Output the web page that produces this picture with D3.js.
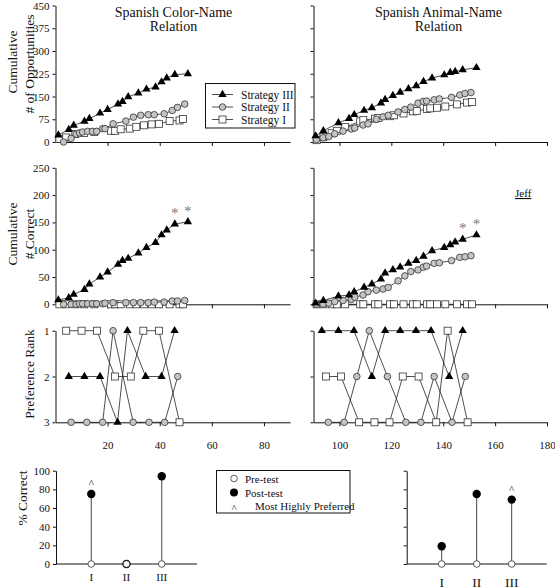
<!DOCTYPE html>
<html><head><meta charset="utf-8">
<script src="https://cdn.jsdelivr.net/npm/d3@7"></script>
<style>body{margin:0;background:#fff}svg{display:block}
svg, svg text{font-family:"Liberation Serif","Times New Roman",Times,"DejaVu Serif",serif !important}</style>
</head><body>
<script>
// ---------- DATA ----------
const colorIIIx = [1.1, 5.1, 7, 11.1, 13, 17.1, 20, 24, 25.7, 27.9, 31.8, 34.9, 38.4, 40.7, 42.7, 45.8, 50.8];
const colorIIIopp = [23, 41, 55, 68, 77, 95, 107, 125, 133, 149, 161, 174, 181, 198, 211, 222, 225];
const colorIIIcor = [8, 12, 18, 27, 37, 50, 59, 73, 80, 84, 94, 104, 113, 127, 136, 147, 151];
const colorIIx = [3.1, 6, 7.9, 9.2, 10.4, 12.3, 14.2, 15.8, 18.1, 19, 22.1, 27, 29.9, 32.7, 35.6, 37.9, 41.7, 44.8, 46.8, 49.6];
const colorIIopp = [0, 12, 26, 30, 33, 35, 35, 35, 44, 44, 60, 69, 82, 88, 90, 90, 93, 104, 114, 125];
const colorIIcor = [0, 0, 0, 1, 1, 1, 1, 1, 1, 2, 3, 3, 3, 3, 3, 4, 4, 6, 6, 7];
const colorIx = [1.5, 4.1, 7.6, 11, 14.9, 21.3, 22.9, 25, 28.5, 31, 34, 36.9, 39.7, 43.8, 47.6, 48.9];
const colorIopp = [10, 15, 26, 30, 33, 37, 37, 42, 44, 50, 55, 58, 60, 69, 71, 76];
const colorIcor = [0, 0, 0, 0, 0, 0, 0, 0, 0, 0, 0, 0, 0, 0, 0, 0];

const animalIIIx = [90.8, 93.8, 99.6, 103.7, 105.7, 109.5, 112.5, 116, 117.6, 120.6, 123.4, 126.6, 129.6, 132.4, 135.7, 140.4, 142.7, 144.6, 147.5, 152.8];
const animalIIIopp = [20, 37, 63, 77, 90, 104, 113, 128, 140, 153, 164, 175, 185, 199, 211, 221, 229, 232, 238, 245];
const animalIIIcor = [2, 7, 15, 17, 23, 31, 37, 46, 57, 63, 68, 75, 80, 88, 98, 104, 109, 114, 119, 127];
const animalIIx = [91.1, 93.7, 95.9, 98.2, 101.4, 104.6, 105.9, 109.1, 111, 114.2, 116.8, 118.8, 122.6, 125.2, 127.5, 130.3, 132.3, 133.6, 136.5, 138.5, 143.2, 146.4, 148.4, 150.7];
const animalIIopp = [8, 14, 18, 27, 36, 43, 46, 56, 60, 75, 83, 88, 99, 107, 115, 128, 134, 135, 139, 142, 147, 155, 160, 163];
const animalIIcor = [0, 0.5, 2, 5, 7, 9, 13, 17, 23, 26, 28, 31, 43, 52, 60, 63, 68, 70, 75, 76, 80, 86, 87, 89];
const animalIx = [91.2, 93.8, 97, 99, 102.2, 108, 109.2, 113.7, 115, 119.5, 121, 124.7, 128.3, 129.8, 133.7, 135, 137.6, 140.8, 145.3, 149.2, 151.1];
const animalIopp = [6, 16, 29, 37, 49, 68, 72, 77, 79, 85, 88, 94, 101, 102, 109, 111, 113, 117, 124, 130, 132];
const animalIcor = [0, 0, 0, 0, 0, 0, 0, 0, 0, 0, 0, 0, 0, 0, 0, 0, 0, 0, 0, 0, 0];

// preference ranks
const colorRankIIIx = [5.1, 11.1, 17.1, 23.8, 27.6, 34.6, 40.7, 45.7];
const colorRankIII = [2, 2, 2, 3, 1, 2, 2, 1];
const colorRankIIx = [6, 12, 18.1, 22.1, 29.8, 35.9, 41.9, 46.9];
const colorRankII = [3, 3, 3, 1, 3, 3, 3, 2];
const colorRankIx = [4.1, 10, 15.9, 22.8, 28.9, 33.7, 39.7, 47.6];
const colorRankI = [1, 1, 1, 2, 2, 1, 1, 3];
const animalRankIIIx = [93.2, 99.6, 105.6, 112.5, 117.6, 123.4, 129.5, 135.3, 142.3, 147.5];
const animalRankIII = [1, 1, 1, 2, 1, 1, 1, 1, 2, 1];
const animalRankIIx = [95.7, 101.8, 106.7, 111.5, 118.5, 125.6, 131.4, 136.5, 143.4, 148.5];
const animalRankII = [3, 3, 2, 1, 2, 3, 3, 2, 3, 2];
const animalRankIx = [94.8, 100.6, 107.6, 113.5, 119.3, 124.4, 130.5, 137.3, 141.7, 149.4];
const animalRankI = [2, 2, 3, 3, 3, 2, 2, 3, 1, 3];

// pre/post tests
const strategies = ["I", "II", "III"];
const colorPre = [0, 0, 0];
const colorPost = [75, 0, 94];
const animalPre = [0, 0, 0];
const animalPost = [19, 75, 69];
const colorPreferred = "I";
const animalPreferred = "III";

const oppTicks = [0, 75, 150, 225, 300, 375, 450];
const corTicks = [0, 50, 100, 150, 200, 250];
const rankTicks = [1, 2, 3];
const pctTicks = [0, 20, 40, 60, 80, 100];
const leftXTicks = [20, 40, 60, 80];
const rightXTicks = [100, 120, 140, 160, 180];

// ---------- DRAW ----------
const svg = d3.select("body").append("svg").attr("width", 555).attr("height", 588);

const xL = d3.scaleLinear([0, 90], [55.5, 290]);
const xR = d3.scaleLinear([90, 180], [313.5, 547]);
const yOpp = d3.scaleLinear([0, 450], [142, 5.5]);
const yCor = d3.scaleLinear([0, 250], [304.3, 167.8]);
const yRank = d3.scaleLinear([1, 3], [330.7, 422.3]);
const yPct = d3.scaleLinear([0, 100], [564, 470.7]);
const xCatL = d3.scalePoint(strategies, [56, 197]).padding(1);
const xCatR = d3.scalePoint(strategies, [406.7, 546.7]).padding(1);

function styleAxis(g) {
  g.attr("font-family", null).attr("font-size", 11);
  g.selectAll("path,line").attr("stroke", "#111").attr("stroke-width", 1);
  g.selectAll("text").attr("fill", "#111");
}

function yAxis(x, y, ticks, labels) {
  const ax = d3.axisLeft(y).tickValues(ticks).tickSize(3).tickSizeOuter(0).tickFormat(d3.format("d"));
  if (!labels) ax.tickFormat("");
  svg.append("g").attr("transform", `translate(${x.range()[0]},0)`).call(ax).call(styleAxis);
}
function xAxis(x, yPos, ticks, labels) {
  const ax = d3.axisBottom(x).tickValues(ticks).tickSize(4).tickSizeOuter(0).tickPadding(15).tickFormat(d3.format("d"));
  if (!labels) ax.tickFormat("");
  svg.append("g").attr("transform", `translate(0,${yPos})`).call(ax).call(styleAxis);
}

const triSym = d3.symbol(d3.symbolTriangle, 30);
function series(x, y, xs, ys, type) {
  const pts = xs.map((v, i) => [x(v), y(ys[i])]);
  svg.append("path").attr("d", d3.line()(pts)).attr("fill", "none")
    .attr("stroke", "#222").attr("stroke-width", 0.8);
  const g = svg.append("g");
  pts.forEach(p => {
    if (type === "tri") {
      g.append("path").attr("d", triSym()).attr("transform", `translate(${p[0]},${p[1]})`)
        .attr("fill", "#000");
    } else if (type === "circ") {
      g.append("circle").attr("cx", p[0]).attr("cy", p[1]).attr("r", 3.3)
        .attr("fill", "#c4c4c4").attr("stroke", "#333").attr("stroke-width", 0.8);
    } else {
      g.append("rect").attr("x", p[0] - 3.5).attr("y", p[1] - 3.5).attr("width", 7).attr("height", 7)
        .attr("fill", "#fff").attr("stroke", "#333").attr("stroke-width", 0.8);
    }
  });
}

// Top panels: opportunities
yAxis(xL, yOpp, oppTicks, true);
xAxis(xL, yOpp(0), leftXTicks, false);
yAxis(xR, yOpp, oppTicks, false);
xAxis(xR, yOpp(0), rightXTicks, false);
series(xL, yOpp, colorIx, colorIopp, "sq");
series(xL, yOpp, colorIIx, colorIIopp, "circ");
series(xL, yOpp, colorIIIx, colorIIIopp, "tri");
series(xR, yOpp, animalIx, animalIopp, "sq");
series(xR, yOpp, animalIIx, animalIIopp, "circ");
series(xR, yOpp, animalIIIx, animalIIIopp, "tri");

// Middle panels: correct
yAxis(xL, yCor, corTicks, true);
xAxis(xL, yCor(0), leftXTicks, false);
yAxis(xR, yCor, corTicks, false);
xAxis(xR, yCor(0), rightXTicks, false);
series(xL, yCor, colorIx, colorIcor, "sq");
series(xL, yCor, colorIIx, colorIIcor, "circ");
series(xL, yCor, colorIIIx, colorIIIcor, "tri");
series(xR, yCor, animalIx, animalIcor, "sq");
series(xR, yCor, animalIIx, animalIIcor, "circ");
series(xR, yCor, animalIIIx, animalIIIcor, "tri");

// asterisks above the last two Strategy III sessions
function stars(x, y, xs, ys) {
  xs.slice(-2).forEach((v, i) => {
    const val = ys[ys.length - 2 + i];
    svg.append("text").attr("x", x(v)).attr("y", y(val) - 6).attr("text-anchor", "middle")
      .attr("font-size", 15).attr("fill", "#777").text("*");
  });
}
stars(xL, yCor, colorIIIx, colorIIIcor);
stars(xR, yCor, animalIIIx, animalIIIcor);

// Rank panels
yAxis(xL, yRank, rankTicks, true);
xAxis(xL, yRank(3), leftXTicks, true);
yAxis(xR, yRank, rankTicks, false);
xAxis(xR, yRank(3), rightXTicks, true);
series(xL, yRank, colorRankIx, colorRankI, "sq");
series(xL, yRank, colorRankIIx, colorRankII, "circ");
series(xL, yRank, colorRankIIIx, colorRankIII, "tri");
series(xR, yRank, animalRankIx, animalRankI, "sq");
series(xR, yRank, animalRankIIx, animalRankII, "circ");
series(xR, yRank, animalRankIIIx, animalRankIII, "tri");

// Titles
function title(x, lines) {
  lines.forEach((t, i) => svg.append("text").attr("x", x).attr("y", 17 + i * 14)
    .attr("text-anchor", "middle").attr("font-size", 14).attr("fill", "#111").text(t));
}
title(173.5, ["Spanish Color-Name", "Relation"]);
title(438.5, ["Spanish Animal-Name", "Relation"]);

// Y labels
function vlabel(x, cy, t, fs) {
  svg.append("text").attr("transform", `translate(${x},${cy}) rotate(-90)`)
    .attr("text-anchor", "middle").attr("font-size", fs || 13.5).attr("fill", "#111").text(t);
}
vlabel(17, 62, "Cumulative");
vlabel(34, 64, "# of Opportunities");
vlabel(17, 234, "Cumulative");
vlabel(34, 234, "# Correct");
vlabel(34, 374, "Preference Rank");
vlabel(27, 498, "% Correct");

// Jeff
svg.append("text").attr("x", 515).attr("y", 197).attr("font-size", 11).attr("fill", "#111")
  .attr("text-decoration", "underline").text("Jeff");

// Top legend
const lg = svg.append("g");
lg.append("rect").attr("x", 205.5).attr("y", 83.5).attr("width", 89.5).attr("height", 44.5)
  .attr("fill", "#fff").attr("stroke", "#111");
[["tri", "Strategy III", 94.5], ["circ", "Strategy II", 107], ["sq", "Strategy I", 119.5]].forEach(([t, lab, yy]) => {
  lg.append("line").attr("x1", 212).attr("x2", 233).attr("y1", yy).attr("y2", yy)
    .attr("stroke", "#222").attr("stroke-width", 0.8);
  if (t === "tri") lg.append("path").attr("d", triSym()).attr("transform", `translate(222.5,${yy})`).attr("fill", "#000");
  else if (t === "circ") lg.append("circle").attr("cx", 222.5).attr("cy", yy).attr("r", 3.3)
    .attr("fill", "#c4c4c4").attr("stroke", "#333").attr("stroke-width", 0.8);
  else lg.append("rect").attr("x", 219).attr("y", yy - 3.5).attr("width", 7).attr("height", 7)
    .attr("fill", "#fff").attr("stroke", "#333").attr("stroke-width", 0.8);
  lg.append("text").attr("x", 241).attr("y", yy + 4).attr("font-size", 11.5).attr("fill", "#111").text(lab);
});

// Bottom panels
function lollipop(xc, pre, post, preferred, labels, lfs, ly) {
  const x0 = xc.range()[0], x1 = xc.range()[1];
  const ax = d3.axisLeft(yPct).tickValues(pctTicks).tickSize(3).tickSizeOuter(0);
  if (!labels) ax.tickFormat("");
  svg.append("g").attr("transform", `translate(${x0},0)`).call(ax).call(styleAxis);
  svg.append("line").attr("x1", x0).attr("x2", x1).attr("y1", yPct(0)).attr("y2", yPct(0))
    .attr("stroke", "#111");
  strategies.forEach((s, i) => {
    const cx = xc(s);
    svg.append("line").attr("x1", cx).attr("x2", cx).attr("y1", yPct(pre[i])).attr("y2", yPct(post[i]))
      .attr("stroke", "#444").attr("stroke-width", 1);
    svg.append("circle").attr("cx", cx).attr("cy", yPct(post[i])).attr("r", 4.2).attr("fill", "#000");
    svg.append("circle").attr("cx", cx).attr("cy", yPct(pre[i])).attr("r", 3.3)
      .attr("fill", "#fff").attr("stroke", "#333").attr("stroke-width", 0.8);
    if (s === preferred) svg.append("text").attr("x", cx).attr("y", yPct(post[i]) - 7)
      .attr("text-anchor", "middle").attr("font-size", 11).attr("fill", "#111").text("^");
    svg.append("text").attr("x", cx).attr("y", ly).attr("text-anchor", "middle")
      .attr("font-size", lfs).attr("fill", "#111").text(s);
  });
}
lollipop(xCatL, colorPre, colorPost, colorPreferred, true, 11, 581);
lollipop(xCatR, animalPre, animalPost, animalPreferred, false, 13.5, 586.5);

// Bottom legend
const bl = svg.append("g");
bl.append("rect").attr("x", 216.5).attr("y", 470.5).attr("width", 133.5).attr("height", 42.5)
  .attr("fill", "#fff").attr("stroke", "#111");
bl.append("circle").attr("cx", 234).attr("cy", 478.5).attr("r", 3.3).attr("fill", "#fff")
  .attr("stroke", "#333").attr("stroke-width", 0.8);
bl.append("text").attr("x", 245).attr("y", 482.5).attr("font-size", 11).attr("fill", "#111").text("Pre-test");
bl.append("circle").attr("cx", 234).attr("cy", 492.5).attr("r", 4).attr("fill", "#000");
bl.append("text").attr("x", 245).attr("y", 496.5).attr("font-size", 11).attr("fill", "#111").text("Post-test");
bl.append("text").attr("x", 234).attr("y", 512).attr("text-anchor", "middle").attr("font-size", 11).attr("fill", "#111").text("^");
bl.append("text").attr("x", 255).attr("y", 510).attr("font-size", 11).attr("fill", "#111").text("Most Highly Preferred");
</script>
</body></html>
